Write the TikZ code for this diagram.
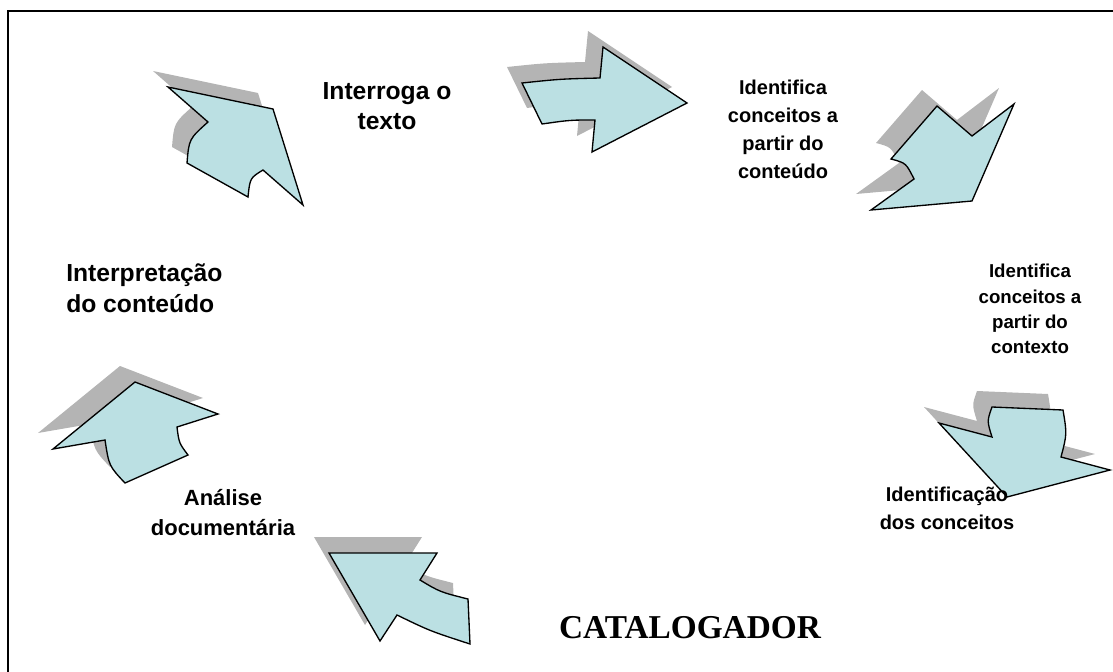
\documentclass[tikz,border=0pt]{standalone}
\usepackage{fontspec}
\setmainfont{Liberation Sans}
\newfontfamily\serifcat{Liberation Serif}
\definecolor{azulseta}{RGB}{187,224,227}
\definecolor{cinzasombra}{RGB}{180,180,180}
\newcommand\flecha[1]{%
  \fill[sombra,shift={(-15,-16)}] #1;
  \filldraw[seta] #1;}
\begin{document}
\begin{tikzpicture}[x=0.75pt,y=-0.75pt,
    seta/.style={fill=azulseta,draw=black,line width=1pt,line join=miter},
    sombra/.style={fill=cinzasombra},
    rotulo/.style={font=\bfseries\fontsize{15}{21}\selectfont,align=center,inner sep=0pt},
    rotulop/.style={rotulo,font=\bfseries\fontsize{14}{19}\selectfont},
    rotulog/.style={rotulo,font=\bfseries\fontsize{18.5}{23}\selectfont}]
  \useasboundingbox (0,0) rectangle (1113,671);
  \clip (0,0) rectangle (1113,671);
  \draw[line width=1.5pt] (8,11) rectangle (1130,690);
  \flecha{(168,87) -- (273,109) -- (303,205) -- (263,170)
    .. controls (250,178) .. (248,197) -- (187,163)
    .. controls (189,139) .. (208,122) -- cycle}
  \flecha{(522,83) .. controls (560,79) .. (600,78) -- (603,47) -- (687,103)
    -- (592,152) -- (595,120) .. controls (570,120) .. (542,124) -- cycle}
  \flecha{(937,106) -- (972,136) -- (1014,104) -- (972,201) -- (871,210)
    -- (914,179) .. controls (906,163) .. (891,159) -- cycle}
  \flecha{(939,423) -- (992,437) .. controls (987,421) .. (992,407)
    -- (1063,410) .. controls (1067,434) .. (1061,457) -- (1110,470)
    -- (1007,497) -- cycle}
  \flecha{(329,553) -- (437,553) -- (420,580) .. controls (440,592) .. (468,599)
    -- (470,644) .. controls (430,631) .. (397,615) -- (380,641) -- cycle}
  \flecha{(135,382) -- (218,414) -- (177,427) .. controls (179,443) .. (188,455)
    -- (125,483) .. controls (109,466) .. (105,440) -- (53,449) -- cycle}
  \node[rotulog] (interroga) at (387,106) {Interroga o\\texto};
  \node[rotulo] (conteudo) at (783,129) {Identifica\\conceitos a\\partir do\\conteúdo};
  \node[rotulop] (contexto) at (1030,309) {Identifica\\conceitos a\\partir do\\contexto};
  \node[rotulo,font=\bfseries\fontsize{15}{21}\selectfont] (conceitos) at (947,508) {Identificação\\dos conceitos};
  \node[rotulo,font=\bfseries\fontsize{16.5}{22.5}\selectfont] (analise) at (223,513) {Análise\\documentária};
  \node[rotulog,align=left,anchor=west] (interpretacao) at (66,288) {Interpretação\\do conteúdo};
  \node[font=\serifcat\bfseries\fontsize{25}{30}\selectfont,inner sep=0pt] (catalogador) at (690,628) {CATALOGADOR};
\end{tikzpicture}
\end{document}
